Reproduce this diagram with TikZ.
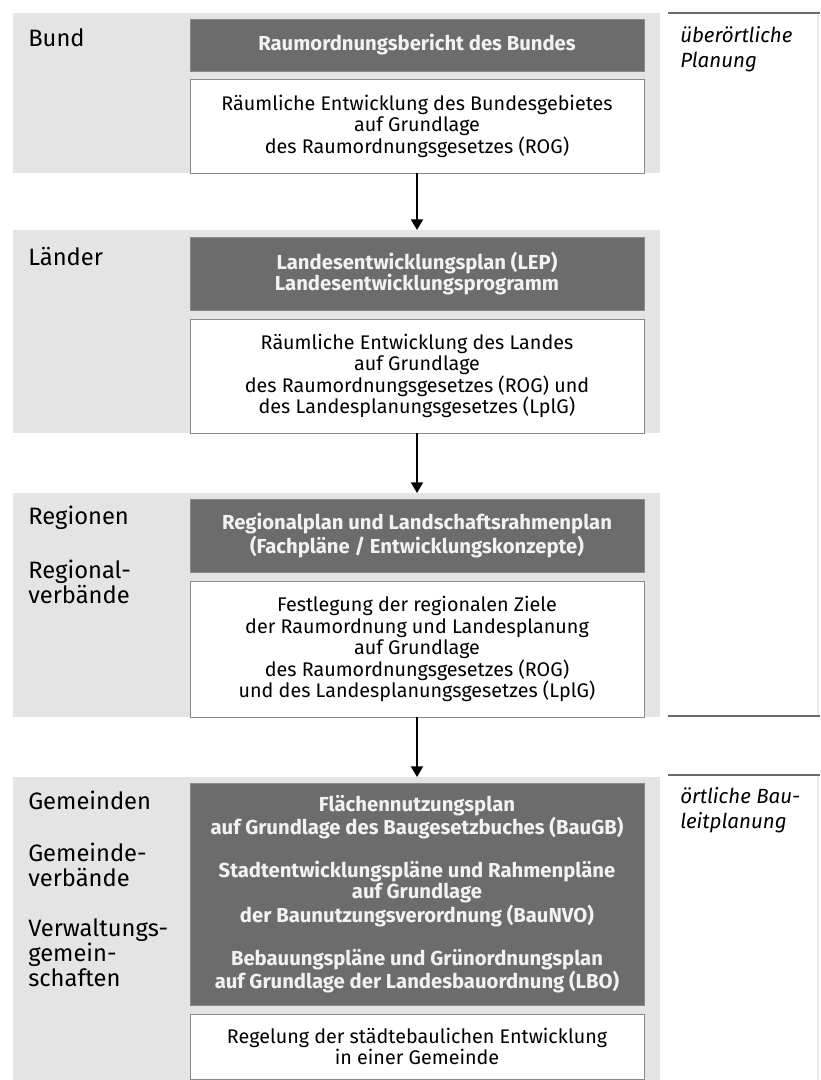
\documentclass[tikz,border=0pt]{standalone}
\usepackage{fontspec}
\setmainfont{Fira Sans}
\usetikzlibrary{arrows.meta}
\definecolor{panelgray}{HTML}{E4E4E4}
\definecolor{darkfill}{HTML}{6C6C6C}
\definecolor{boxline}{HTML}{8A8A8A}
\definecolor{rulegray}{HTML}{6A6A6A}
\definecolor{faintgray}{HTML}{EBEBEB}
\definecolor{boxtext}{HTML}{F2F2F2}
\begin{document}
\begin{tikzpicture}[x=0.75pt,y=-0.75pt,
  panel/.style={fill=panelgray,draw=none,inner sep=0pt,minimum width=485.25pt,anchor=north west},
  darkbox/.style={fill=darkfill,draw=boxline,line width=0.6pt,text=boxtext,
     font=\fontsize{15.2}{16.1}\selectfont\bfseries,align=center,
     minimum width=340.5pt,inner sep=0pt},
  whitebox/.style={fill=white,draw=boxline,line width=0.6pt,text=black,
     font=\fontsize{14.8}{16.1}\selectfont,align=center,
     minimum width=340.5pt,inner sep=0pt},
  levellabel/.style={anchor=west,align=left,inner sep=0pt,
     font=\fontsize{17.8}{18.75}\selectfont},
  typelabel/.style={anchor=west,align=left,inner sep=0pt,
     font=\fontsize{15.4}{18.75}\selectfont\itshape},
  flowarrow/.style={-{Triangle[width=9pt,length=8pt]},line width=1.5pt,black},
  ruleline/.style={draw=rulegray,line width=1pt},
  faintline/.style={draw=faintgray,line width=0.8pt}
]
\useasboundingbox (0,0) rectangle (820,1080);
\fill[white] (0,0) rectangle (820,1080);

% panels
\node[panel,minimum height=120pt] (p1) at (13,13) {};
\node[panel,minimum height=152.25pt] (p2) at (13,230) {};
\node[panel,minimum height=168pt] (p3) at (13,493) {};
\node[panel,minimum height=232.5pt] (p4) at (13,777) {};

% boxes
\node[darkbox,minimum height=39pt] (d1) at (417,45) {Raumordnungsbericht des Bundes};
\node[whitebox,minimum height=70.5pt] (w1) at (417,126) {Räumliche Entwicklung des Bundesgebietes\\auf Grundlage\\des Raumordnungsgesetzes (ROG)};

\node[darkbox,minimum height=54.75pt] (d2) at (417,273.5) {Landesentwicklungsplan (LEP)\\Landesentwicklungsprogramm};
\node[whitebox,minimum height=85.5pt] (w2) at (417,376) {Räumliche Entwicklung des Landes\\auf Grundlage\\des Raumordnungsgesetzes (ROG) und\\des Landesplanungsgesetzes (LplG)};

\node[darkbox,minimum height=54.75pt] (d3) at (417,535.5) {Regionalplan und Landschaftsrahmenplan\\(Fachpläne / Entwicklungskonzepte)};
\node[whitebox,minimum height=102pt] (w3) at (417,649) {Festlegung der regionalen Ziele\\der Raumordnung und Landesplanung\\auf Grundlage\\des Raumordnungsgesetzes (ROG)\\und des Landesplanungsgesetzes (LplG)};

\node[darkbox,minimum height=166.5pt] (d4) at (417,894) {Flächennutzungsplan\\auf Grundlage des Baugesetzbuches (BauGB)\\[16.1pt]Stadtentwicklungspläne und Rahmenpläne\\auf Grundlage\\der Baunutzungsverordnung (BauNVO)\\[16.1pt]Bebauungspläne und Grünordnungsplan\\auf Grundlage der Landesbauordnung (LBO)};
\node[whitebox,minimum height=48.75pt] (w4) at (417,1046.5) {Regelung der städtebaulichen Entwicklung\\in einer Gemeinde};

% arrows
\draw[flowarrow] (w1.south) -- (w1.south |- p2.north);
\draw[flowarrow] (w2.south) -- (w2.south |- p3.north);
\draw[flowarrow] (w3.south) -- (w3.south |- p4.north);

% level labels
\node[levellabel] (lBund) at (28,38) {Bund};
\node[levellabel] (lLaender) at (28,257) {Länder};
\node[levellabel] (lRegionen) at (28,518) {Regionen};
\node[levellabel] (lRegverb) at (28,582) {Regional-\\verbände};
\node[levellabel] (lGemeinden) at (28,800) {Gemeinden};
\node[levellabel] (lGemverb) at (28,864.5) {Gemeinde-\\verbände};
\node[levellabel] (lVerw) at (28,953) {Verwaltungs-\\gemein-\\schaften};

% right column
\draw[ruleline] (668,13) -- (820,13);
\draw[ruleline] (668,716) -- (820,716);
\draw[ruleline] (668,775) -- (820,775);
\draw[faintline] (818,14) -- (818,715);
\draw[faintline] (818,776) -- (818,1080);
\node[typelabel] (tUeber) at (680,49.5) {überörtliche\\Planung};
\node[typelabel] (tOert) at (680,810.5) {örtliche Bau-\\leitplanung};
\end{tikzpicture}
\end{document}
